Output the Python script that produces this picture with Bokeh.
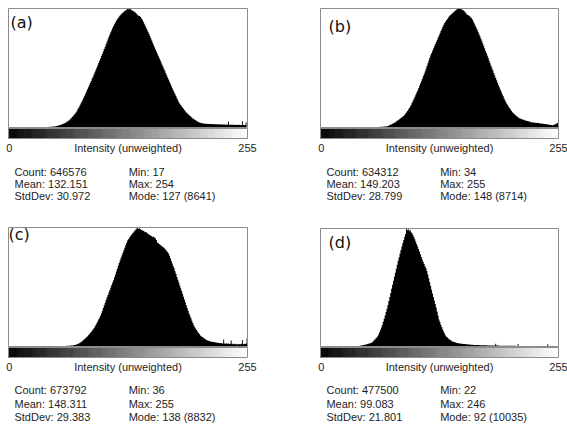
from bokeh.plotting import figure
from bokeh.models import Range1d
from bokeh.core.properties import value
from bokeh.embed import file_html
from bokeh.resources import INLINE

W, H = 567, 427

# ---------------- data ----------------
bins = list(range(256))

counts_a = [
    0, 0, 0, 0, 0, 0, 0, 0, 0, 0, 0, 0, 0, 0, 0, 0,
    0, 2, 1, 3, 2, 4, 3, 5, 6, 5, 8, 9, 11, 10, 13, 15,
    17, 16, 20, 22, 25, 24, 29, 32, 35, 38, 42, 46, 51, 55, 61, 67,
    73, 81, 95, 110, 124, 139, 161, 183, 205, 234, 264, 293, 329, 366, 410, 461,
    512, 571, 637, 703, 776, 856, 937, 1025, 1113, 1230, 1354, 1479, 1610, 1742, 1874, 2013,
    2159, 2313, 2467, 2621, 2774, 2928, 3074, 3228, 3382, 3536, 3689, 3843, 4004, 4172, 4341, 4509,
    4677, 4846, 5014, 5183, 5344, 5519, 5695, 5871, 6046, 6222, 6405, 6588, 6749, 6910, 7064, 7218,
    7364, 7503, 7627, 7745, 7854, 7957, 8052, 8140, 8213, 8279, 8337, 8396, 8455, 8506, 8550, 8641,
    8594, 8608, 8579, 8542, 8491, 8462, 8418, 8367, 8316, 8242, 8154, 8120, 8089, 8015, 7920, 7832,
    7686, 7540, 7393, 7247, 7100, 6954, 6808, 6639, 6478, 6310, 6149, 5988, 5827, 5666, 5512, 5358,
    5205, 5051, 4897, 4743, 4582, 4429, 4268, 4114, 3953, 3799, 3638, 3484, 3323, 3170, 3009, 2855,
    2708, 2562, 2416, 2269, 2123, 1976, 1830, 1728, 1632, 1537, 1449, 1362, 1266, 1179, 1098, 1032,
    966, 900, 834, 776, 717, 659, 615, 571, 527, 483, 439, 403, 366, 344, 322, 307,
    293, 285, 278, 270, 262, 266, 255, 258, 249, 252, 244, 247, 238, 243, 231, 236,
    228, 233, 221, 226, 218, 224, 212, 219, 207, 214, 203, 430, 198, 205, 196, 201,
    193, 199, 190, 196, 187, 194, 185, 191, 183, 189, 460, 186, 179, 184, 380, 0,
]

counts_b = [
    0, 0, 0, 0, 0, 0, 0, 0, 0, 0, 0, 0, 0, 0, 0, 0,
    0, 0, 0, 0, 0, 0, 0, 0, 0, 0, 0, 0, 0, 0, 0, 0,
    0, 0, 1, 0, 2, 1, 2, 3, 2, 4, 3, 5, 5, 6, 8, 7,
    9, 10, 12, 11, 14, 16, 18, 20, 22, 25, 28, 31, 34, 37, 41, 45,
    49, 53, 57, 61, 65, 69, 74, 96, 118, 148, 177, 207, 236, 273, 310, 347,
    391, 443, 487, 539, 591, 642, 694, 753, 812, 849, 930, 1019, 1115, 1211, 1315, 1425,
    1543, 1669, 1809, 1957, 2112, 2260, 2408, 2555, 2710, 2880, 3050, 3220, 3390, 3567, 3744, 3914,
    4106, 4305, 4505, 4704, 4904, 5103, 5295, 5457, 5620, 5782, 5945, 6107, 6270, 6425, 6587, 6742,
    6905, 7060, 7215, 7370, 7525, 7651, 7754, 7858, 7954, 8050, 8138, 8212, 8271, 8338, 8404, 8463,
    8522, 8581, 8633, 8677, 8714, 8685, 8699, 8655, 8626, 8589, 8537, 8456, 8360, 8271, 8234, 8197,
    8146, 8072, 7991, 7902, 7769, 7621, 7474, 7326, 7171, 7016, 6868, 6698, 6521, 6344, 6166, 5989,
    5805, 5627, 5450, 5266, 5081, 4896, 4712, 4527, 4342, 4165, 3988, 3811, 3633, 3456, 3279, 3102,
    2939, 2777, 2614, 2459, 2304, 2149, 1994, 1846, 1735, 1625, 1521, 1418, 1315, 1211, 1108, 1041,
    982, 923, 864, 805, 746, 687, 665, 635, 613, 583, 561, 532, 510, 495, 473, 450,
    436, 421, 391, 384, 365, 369, 350, 352, 336, 339, 321, 316, 298, 301, 277, 280,
    258, 251, 244, 236, 222, 214, 207, 192, 185, 170, 185, 207, 236, 266, 318, 369,
]

counts_c = [
    0, 0, 0, 0, 0, 0, 0, 0, 0, 0, 0, 0, 0, 0, 0, 0,
    0, 0, 0, 0, 0, 0, 0, 0, 0, 0, 0, 0, 0, 0, 0, 0,
    0, 0, 0, 0, 1, 0, 2, 1, 3, 2, 4, 5, 4, 6, 7, 9,
    10, 11, 13, 14, 16, 18, 20, 22, 25, 28, 31, 35, 39, 43, 47, 52,
    57, 62, 66, 71, 75, 90, 105, 120, 142, 165, 195, 225, 284, 322, 374, 434,
    494, 554, 614, 681, 749, 831, 913, 996, 1078, 1160, 1257, 1347, 1467, 1594, 1729, 1864,
    1998, 2141, 2290, 2463, 2657, 2852, 3054, 3256, 3458, 3653, 3817, 4012, 4199, 4386, 4566, 4745,
    4925, 5135, 5352, 5569, 5778, 5988, 6190, 6392, 6587, 6774, 6961, 7148, 7335, 7515, 7687, 7859,
    7964, 8069, 8174, 8271, 8360, 8450, 8533, 8608, 8698, 8757, 8832, 8720, 8772, 8705, 8653, 8608,
    8593, 8533, 8473, 8503, 8413, 8368, 8308, 8264, 8234, 8174, 8129, 8144, 8084, 8024, 7897, 7710,
    7657, 7605, 7552, 7500, 7448, 7388, 7335, 7260, 7186, 7096, 6999, 6901, 6737, 6542, 6347, 6153,
    5973, 5801, 5584, 5374, 5165, 4955, 4746, 4536, 4326, 4117, 3907, 3698, 3488, 3278, 3069, 2859,
    2650, 2455, 2275, 2096, 1916, 1737, 1572, 1452, 1332, 1220, 1115, 1018, 921, 823, 763, 711,
    659, 606, 554, 509, 472, 442, 419, 397, 374, 359, 344, 329, 322, 307, 299, 284,
    277, 269, 254, 247, 240, 225, 524, 217, 202, 232, 195, 217, 187, 210, 449, 195,
    172, 202, 165, 195, 157, 187, 150, 180, 165, 195, 487, 172, 210, 180, 225, 599,
]

counts_d = [
    0, 0, 0, 0, 0, 0, 0, 0, 0, 0, 0, 0, 0, 0, 0, 0,
    0, 0, 0, 0, 0, 0, 1, 0, 1, 2, 1, 3, 2, 4, 3, 5,
    6, 8, 7, 10, 12, 15, 22, 28, 36, 48, 64, 85, 94, 111, 128, 145,
    162, 179, 204, 230, 255, 272, 298, 357, 425, 502, 587, 672, 765, 867, 1020, 1207,
    1411, 1624, 1845, 2100, 2363, 2635, 2924, 3213, 3519, 3859, 4199, 4548, 4905, 5253, 5593, 5933,
    6282, 6622, 6962, 7285, 7599, 7905, 8211, 8509, 8789, 9061, 9333, 9571, 10035, 9894, 9962, 9843,
    9911, 9707, 9639, 9478, 9316, 9121, 8908, 8704, 8500, 8288, 8075, 7846, 7616, 7395, 7208, 7021,
    6834, 6647, 6426, 6120, 5797, 5474, 5151, 4828, 4505, 4208, 3910, 3613, 3315, 2975, 2635, 2295,
    2074, 1853, 1649, 1445, 1275, 1105, 935, 833, 757, 689, 621, 561, 502, 451, 408, 383,
    357, 332, 306, 289, 272, 255, 247, 238, 230, 221, 213, 204, 196, 187, 179, 170,
    162, 157, 153, 145, 136, 136, 131, 128, 124, 121, 118, 115, 112, 109, 107, 104,
    101, 99, 97, 95, 93, 91, 89, 87, 85, 83, 81, 80, 240, 78, 76, 75,
    74, 72, 71, 70, 68, 67, 66, 65, 64, 62, 61, 60, 59, 58, 57, 56,
    55, 54, 53, 52, 210, 52, 51, 50, 49, 48, 48, 47, 46, 45, 45, 44,
    43, 43, 42, 41, 41, 40, 39, 39, 38, 38, 37, 36, 36, 35, 35, 34,
    34, 33, 33, 32, 190, 31, 30, 0, 0, 0, 0, 0, 0, 0, 0, 0,
]

panel_names = ["(a)", "(b)", "(c)", "(d)"]
stat_count = ["646576", "634312", "673792", "477500"]
stat_mean = ["132.151", "149.203", "148.311", "99.083"]
stat_stddev = ["30.972", "28.799", "29.383", "21.801"]
stat_min = ["17", "34", "36", "22"]
stat_max = ["254", "255", "255", "246"]
stat_mode = ["127", "148", "138", "92"]
stat_mode_count = ["8641", "8714", "8832", "10035"]
axis_title = "Intensity (unweighted)"
tick_labels = ["0", "255"]

all_counts = [counts_a, counts_b, counts_c, counts_d]

# ---------------- layout (pixel positions of each panel) ----------------
layout = [
    dict(L=8, R=247, T=8, B=127, g=(128, 138), ly=147, sy=(171.7, 183.5, 195.3), lab=(10, 22)),
    dict(L=320, R=558, T=8, B=127, g=(128, 138), ly=147, sy=(171.7, 183.5, 195.3), lab=(328, 25.5)),
    dict(L=8, R=247, T=227, B=346, g=(347, 357), ly=366, sy=(389, 403, 416.5), lab=(8, 234)),
    dict(L=320, R=558, T=228, B=346, g=(347, 357), ly=366, sy=(389.5, 403, 416.5), lab=(328, 242)),
]

p = figure(width=W, height=H, output_backend="svg", toolbar_location=None,
           x_range=Range1d(0, W), y_range=Range1d(H, 0),
           min_border=0, min_border_left=0, min_border_right=0,
           min_border_top=0, min_border_bottom=0)
p.axis.visible = False
p.xaxis.visible = False
p.yaxis.visible = False
p.grid.visible = False
p.outline_line_color = None
p.background_fill_color = "white"
p.border_fill_color = "white"

FONT = value("Liberation Sans")
TXT = "#1e1e1e"
FRAME = "#8c8c8c"
gray_hex = ["#%02x%02x%02x" % (b, b, b) for b in bins]

for i, (counts, lo) in enumerate(zip(all_counts, layout)):
    L, R, T, B = lo["L"], lo["R"], lo["T"], lo["B"]
    xs = 256.0 / (R - L)
    xn, yn = f"bx{i}", f"cy{i}"
    p.extra_x_ranges[xn] = Range1d(start=-L * xs, end=(W - L) * xs)
    ymax = max(counts)
    k = ymax / (B - T)
    p.extra_y_ranges[yn] = Range1d(start=(B - H) * k, end=B * k)

    # histogram as a filled step area
    p.varea_step(x=bins + [256], y1=[0] * 257, y2=counts + [counts[-1]],
                 step_mode="after", fill_color="black",
                 x_range_name=xn, y_range_name=yn)

    # LUT gradient bar
    g0, g1 = lo["g"]
    p.quad(left=bins, right=[b + 1 for b in bins], top=[g0] * 256, bottom=[g1] * 256,
           fill_color=gray_hex, line_color=gray_hex, line_width=0.6, x_range_name=xn)
    p.quad(left=[0], right=[256], top=[g0], bottom=[g1], fill_color=None,
           line_color=FRAME, line_width=1, x_range_name=xn)

    # histogram frame
    p.quad(left=[0], right=[256], top=[T], bottom=[B], fill_color=None,
           line_color=FRAME, line_width=1, x_range_name=xn)

    # axis labels
    ly = lo["ly"]
    p.text(x=[1, 256], y=[ly, ly], text=tick_labels, text_align="center",
           text_baseline="middle", text_font=FONT, text_font_size="11px",
           text_color=TXT, x_range_name=xn)
    p.text(x=[128], y=[ly], text=[axis_title], text_align="center",
           text_baseline="middle", text_font=FONT, text_font_size="11px",
           text_color=TXT, x_range_name=xn)

    # statistics
    s0, s1, s2 = lo["sy"]
    left_col = ["Count: " + stat_count[i], "Mean: " + stat_mean[i], "StdDev: " + stat_stddev[i]]
    right_col = ["Min: " + stat_min[i], "Max: " + stat_max[i],
                 "Mode: " + stat_mode[i] + " (" + stat_mode_count[i] + ")"]
    p.text(x=[6.4] * 3, y=[s0, s1, s2], text=left_col, text_align="left",
           text_baseline="middle", text_font=FONT, text_font_size="11px",
           text_color=TXT, x_range_name=xn)
    p.text(x=[128.7] * 3, y=[s0, s1, s2], text=right_col, text_align="left",
           text_baseline="middle", text_font=FONT, text_font_size="11px",
           text_color=TXT, x_range_name=xn)

    # panel letter
    lx, lyy = lo["lab"]
    p.text(x=[lx], y=[lyy], text=[panel_names[i]], text_align="left",
           text_baseline="middle", text_font=value("DejaVu Sans"), text_font_size="16px",
           text_color="#111111")

open("out.html", "w").write(file_html(p, INLINE))
